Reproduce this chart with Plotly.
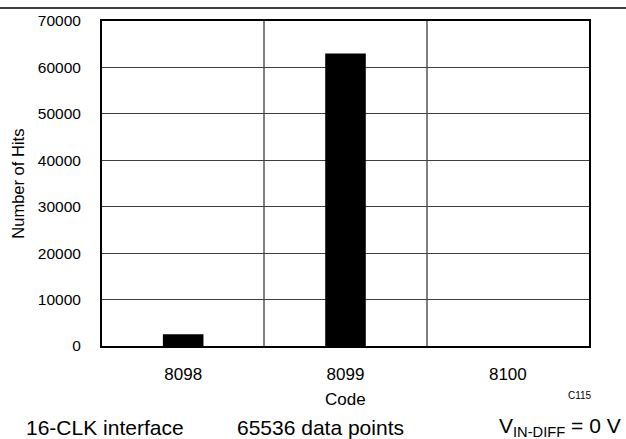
import plotly.graph_objects as go

# histogram of output codes
codes = [8098, 8099, 8100]
hits = [2536, 63000, 0]
tick_labels = ["8098", "8099", "8100"]
y_ticks = [0, 10000, 20000, 30000, 40000, 50000, 60000, 70000]
y_tick_labels = ["0", "10000", "20000", "30000", "40000", "50000", "60000", "70000"]
boundaries = [8098.5, 8099.5]

FONT = "Liberation Sans, Arial, sans-serif"

fig = go.Figure(data=go.Bar(x=codes, y=hits, width=0.25,
                            marker=dict(color="black", line=dict(width=0))))

fig.update_layout(
    width=626, height=439,
    margin=dict(l=102, r=37, t=16, b=93),
    paper_bgcolor="white", plot_bgcolor="white",
    font=dict(family=FONT, color="black"),
    showlegend=False,
    xaxis=dict(
        range=[8097.5, 8100.5], tickvals=codes, ticktext=tick_labels,
        showgrid=False, zeroline=False,
        showline=True, mirror=True, linecolor="black", linewidth=2,
        tickfont=dict(size=17), ticklabelstandoff=12,
        minor=dict(tickvals=boundaries, showgrid=True, gridcolor="#808080", gridwidth=2),
    ),
    yaxis=dict(
        range=[0, 70000], tickvals=y_ticks, ticktext=y_tick_labels,
        showgrid=True, gridcolor="#404040", gridwidth=1, zeroline=False,
        showline=True, mirror=True, linecolor="black", linewidth=2,
        tickfont=dict(size=15.5), ticklabelstandoff=16,
    ),
)

# rule across the top of the page
fig.add_shape(type="line", xref="paper", yref="paper",
              x0=-102 / 487, x1=1 + 37 / 487, y0=1 + 13.3 / 330, y1=1 + 13.3 / 330,
              line=dict(color="black", width=1.5))

fig.add_annotation(text="Code", xref="paper", yref="paper", x=0.5, y=0,
                   yanchor="middle", yshift=-53, showarrow=False, font=dict(size=17))
fig.add_annotation(text="Number of Hits", xref="paper", yref="paper",
                   x=(18.5 - 102) / 487, y=0.498, textangle=-90,
                   xanchor="center", yanchor="middle", showarrow=False, font=dict(size=16.5))
fig.add_annotation(text="C115", xref="paper", yref="paper", x=(594 - 102) / 487, y=0,
                   yanchor="middle", yshift=-49, showarrow=False, font=dict(size=10))
fig.add_annotation(text="16-CLK interface", xref="paper", yref="paper",
                   x=(24 - 102) / 487, y=0, xanchor="left", yanchor="middle",
                   yshift=-81, showarrow=False, font=dict(size=21))
fig.add_annotation(text="65536 data points", xref="paper", yref="paper",
                   x=(235 - 102) / 487, y=0, xanchor="left", yanchor="middle",
                   yshift=-81, showarrow=False, font=dict(size=21))
fig.add_annotation(text="V<sub>IN-DIFF</sub> = 0 V", xref="paper", yref="paper",
                   x=(623 - 102) / 487, y=0, xanchor="right", yanchor="middle",
                   yshift=-81, showarrow=False, font=dict(size=21))

# page has a default 8px body margin; drop it so the figure sits at the corner
fig.write_html("out.html", config={"displayModeBar": False},
               post_script="document.body.style.margin='0';document.body.style.overflow='hidden';")
